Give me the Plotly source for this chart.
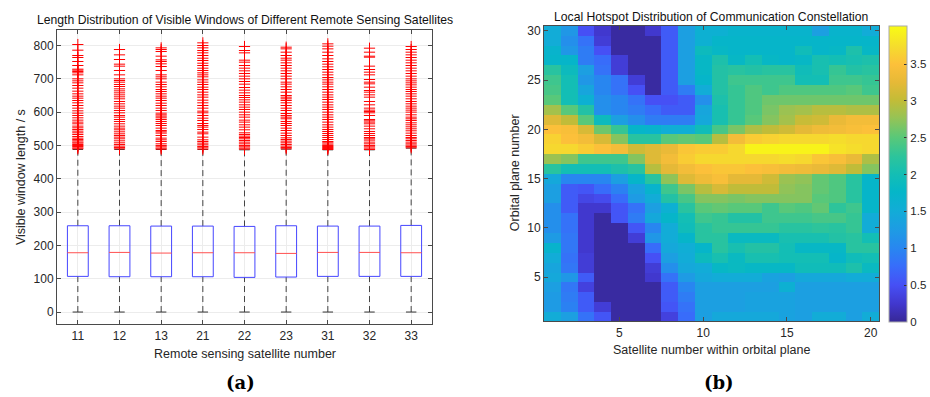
import plotly.graph_objects as go

# ---------------- data: (a) box plot ----------------
sat_labels = ['11', '12', '13', '21', '22', '23', '31', '32', '33']
q1 = [107, 106, 106, 106, 104, 105, 107, 107, 107]
median = [178, 179, 177, 178, 178, 176, 179, 179, 178]
q3 = [259, 259, 258, 258, 257, 259, 258, 258, 260]
upper_whisker = [488, 488, 488, 488, 487, 489, 487, 487, 492]
lower_whisker = [0, 0, 0, 0, 0, 0, 0, 0, 0]

outliers_11 = [490, 493, 497, 500, 503, 507, 510, 514, 518, 522, 527, 533, 538, 543, 548, 553, 558, 565, 570, 576, 583, 590, 597, 604, 612, 620, 628, 635, 642, 648, 655, 663, 672, 680, 688, 694, 700, 712, 718, 722, 726, 729, 740, 752, 764, 770, 786, 803]
outliers_12 = [490, 494, 498, 503, 508, 514, 520, 525, 530, 535, 541, 547, 552, 558, 565, 572, 578, 585, 590, 598, 605, 612, 618, 625, 632, 640, 646, 652, 658, 664, 670, 677, 683, 690, 695, 700, 712, 725, 738, 744, 758, 772, 788]
outliers_13 = [489, 492, 496, 500, 505, 512, 517, 522, 530, 537, 541, 545, 552, 560, 566, 572, 578, 583, 588, 592, 597, 605, 612, 620, 627, 635, 642, 648, 655, 662, 668, 676, 683, 690, 700, 706, 712, 725, 737, 745, 752, 757, 768, 782, 788, 793]
outliers_21 = [489, 493, 497, 502, 507, 512, 517, 525, 535, 540, 548, 555, 560, 566, 575, 582, 590, 598, 603, 612, 620, 628, 636, 645, 652, 660, 668, 675, 683, 690, 697, 706, 712, 718, 725, 732, 740, 747, 755, 762, 770, 778, 785, 793, 800, 808]
outliers_22 = [489, 492, 496, 500, 505, 510, 515, 520, 524, 528, 533, 538, 547, 555, 562, 570, 576, 585, 592, 600, 608, 615, 622, 630, 637, 644, 650, 658, 666, 674, 684, 692, 700, 708, 716, 724, 732, 740, 750, 756, 778, 785, 797]
outliers_23 = [490, 494, 498, 503, 508, 513, 518, 523, 530, 537, 545, 552, 560, 566, 572, 580, 585, 590, 596, 605, 612, 620, 628, 635, 640, 645, 650, 660, 668, 676, 684, 690, 700, 708, 716, 724, 732, 740, 748, 756, 762, 770, 780, 790, 795]
outliers_31 = [488, 491, 494, 497, 500, 504, 508, 512, 518, 524, 530, 536, 542, 548, 555, 562, 570, 578, 585, 592, 600, 608, 615, 622, 630, 638, 645, 652, 660, 668, 676, 684, 690, 697, 704, 712, 720, 728, 736, 744, 752, 760, 770, 780, 790, 798, 805]
outliers_32 = [488, 492, 496, 500, 505, 510, 516, 520, 524, 530, 536, 542, 550, 558, 565, 570, 574, 578, 590, 598, 602, 606, 612, 622, 632, 645, 652, 660, 665, 675, 685, 690, 698, 712, 720, 728, 738, 765, 768, 780, 792]
outliers_33 = [493, 497, 501, 505, 510, 515, 520, 524, 530, 537, 544, 550, 556, 562, 568, 575, 580, 585, 592, 600, 606, 612, 618, 625, 632, 640, 648, 655, 662, 668, 675, 682, 688, 694, 700, 708, 716, 724, 732, 740, 748, 756, 764, 772, 780, 788, 797]
outliers = [outliers_11, outliers_12, outliers_13, outliers_21, outliers_22,
            outliers_23, outliers_31, outliers_32, outliers_33]

y_ticks_a = [0, 100, 200, 300, 400, 500, 600, 700, 800]

# ---------------- data: (b) heat map (rows = orbital plane 1..30, cols = satellite 1..20) ----------------
sat_in_plane = list(range(1, 21))
orbital_plane = list(range(1, 31))
hotspot = [
    [1.5, 1.3, 0.8, 0.55, 0.05, 0.05, 0.05, 0.35, 0.75, 1.3, 1.45, 1.45, 1.45, 1.45, 1.35, 1.3, 1.5, 1.5, 1.3, 1.5],
    [1.25, 0.95, 0.6, 0.3, 0.05, 0.05, 0.05, 0.55, 0.8, 1.3, 1.3, 1.3, 1.35, 1.35, 1.35, 1.3, 1.3, 1.3, 1.3, 1.3],
    [1.25, 0.9, 0.6, 0.05, 0.05, 0.05, 0.05, 0.6, 0.9, 1.3, 1.3, 1.3, 1.35, 1.35, 1.35, 1.3, 1.3, 1.3, 1.3, 1.3],
    [1.3, 0.85, 0.35, 0.05, 0.05, 0.05, 0.05, 0.6, 1.0, 1.3, 1.3, 1.3, 1.3, 1.3, 1.6, 1.3, 1.3, 1.3, 1.3, 1.3],
    [1.45, 1.2, 0.6, 0.05, 0.05, 0.05, 0.25, 0.8, 1.25, 1.45, 1.5, 1.5, 1.5, 1.35, 1.3, 1.45, 1.45, 1.45, 1.5, 1.5],
    [1.4, 0.85, 0.3, 0.05, 0.05, 0.05, 0.3, 1.1, 1.45, 1.5, 1.8, 1.85, 1.8, 1.8, 1.8, 1.95, 1.95, 1.95, 2.1, 1.85],
    [1.5, 0.8, 0.3, 0.05, 0.05, 0.05, 0.5, 1.3, 1.5, 1.9, 2.05, 1.85, 2.05, 2.05, 2.0, 2.0, 2.0, 1.75, 1.95, 2.0],
    [1.7, 0.85, 0.25, 0.05, 0.05, 0.05, 0.75, 1.45, 1.55, 1.75, 2.2, 2.05, 2.15, 2.15, 2.0, 1.8, 1.8, 1.8, 2.2, 2.2],
    [1.25, 0.85, 0.25, 0.05, 0.05, 0.3, 1.2, 1.5, 1.75, 2.2, 2.2, 1.85, 1.85, 1.85, 2.05, 2.05, 2.05, 2.15, 2.2, 2.0],
    [1.1, 0.8, 0.25, 0.05, 0.05, 0.55, 1.0, 1.5, 1.95, 2.2, 2.3, 2.3, 2.3, 2.3, 2.2, 2.2, 2.25, 2.2, 2.3, 1.5],
    [1.1, 0.8, 0.25, 0.05, 0.55, 0.9, 1.45, 1.75, 2.0, 2.35, 2.3, 2.15, 2.15, 2.35, 2.35, 2.35, 2.4, 2.4, 2.3, 1.5],
    [1.1, 0.6, 0.25, 0.25, 0.55, 0.8, 1.3, 1.6, 2.2, 2.5, 2.55, 2.5, 2.5, 2.35, 2.5, 2.45, 2.55, 2.25, 2.35, 1.75],
    [1.3, 0.6, 0.4, 0.45, 0.75, 1.25, 1.5, 2.15, 2.4, 2.7, 2.7, 2.65, 2.7, 2.7, 2.7, 2.7, 2.5, 2.45, 2.2, 1.75],
    [1.3, 0.6, 0.55, 0.75, 0.95, 1.35, 1.7, 2.35, 2.65, 2.95, 3.15, 3.0, 3.0, 3.0, 2.75, 2.7, 2.55, 2.45, 2.2, 1.75],
    [1.45, 1.0, 1.0, 1.0, 1.3, 1.75, 2.2, 2.75, 3.2, 3.35, 3.45, 3.25, 3.25, 3.1, 2.8, 2.75, 2.55, 2.45, 2.2, 1.75],
    [2.2, 2.0, 2.0, 2.0, 2.1, 2.2, 2.95, 3.25, 3.4, 3.5, 3.55, 3.55, 3.5, 3.45, 3.4, 3.35, 3.3, 3.2, 3.0, 2.7],
    [2.8, 2.7, 2.35, 2.35, 2.35, 2.7, 3.2, 3.4, 3.6, 3.7, 3.7, 3.7, 3.7, 3.7, 3.75, 3.7, 3.55, 3.45, 3.3, 2.9],
    [3.7, 3.7, 3.6, 3.5, 3.4, 3.1, 3.2, 3.3, 3.55, 3.6, 3.6, 3.7, 3.95, 3.95, 3.95, 3.95, 3.95, 3.8, 3.75, 3.7],
    [3.65, 3.5, 3.4, 3.15, 2.7, 2.2, 2.2, 2.5, 2.55, 2.5, 2.95, 3.4, 3.6, 3.65, 3.7, 3.7, 3.7, 3.75, 3.7, 3.7],
    [3.5, 3.45, 3.15, 2.6, 2.3, 1.75, 1.7, 1.55, 1.55, 1.95, 2.4, 2.65, 2.9, 3.0, 3.1, 3.25, 3.35, 3.4, 3.45, 3.5],
    [3.2, 3.0, 2.5, 1.9, 1.3, 1.1, 0.9, 0.9, 0.9, 1.45, 2.05, 2.3, 2.5, 2.7, 2.85, 3.05, 3.1, 3.3, 3.4, 3.4],
    [2.85, 2.5, 2.15, 1.1, 1.0, 0.9, 0.75, 0.6, 0.6, 1.4, 2.05, 2.3, 2.45, 2.65, 2.8, 2.85, 2.95, 2.95, 2.9, 2.9],
    [2.5, 2.0, 1.6, 1.1, 1.0, 0.8, 0.5, 0.5, 0.6, 1.1, 2.1, 2.3, 2.45, 2.6, 2.6, 2.6, 2.6, 2.6, 2.6, 2.6],
    [2.4, 2.0, 1.4, 1.0, 0.8, 0.5, 0.05, 0.6, 0.9, 1.5, 2.15, 2.3, 2.45, 2.35, 2.45, 2.45, 2.45, 2.45, 2.5, 2.35],
    [2.35, 2.0, 1.2, 1.0, 0.8, 0.3, 0.05, 0.6, 1.3, 1.75, 2.15, 2.35, 2.35, 2.35, 2.35, 2.0, 2.0, 2.35, 2.35, 2.3],
    [2.2, 1.9, 1.3, 0.8, 0.3, 0.05, 0.05, 0.6, 1.3, 1.8, 2.15, 2.2, 2.15, 2.2, 2.2, 1.95, 2.05, 2.3, 2.15, 2.2],
    [1.75, 1.75, 0.9, 0.75, 0.3, 0.05, 0.05, 0.6, 1.3, 1.8, 2.1, 1.8, 2.0, 1.8, 1.75, 1.8, 2.05, 2.0, 2.05, 2.1],
    [1.7, 1.2, 0.9, 0.5, 0.05, 0.05, 0.05, 0.6, 1.3, 1.9, 1.8, 1.75, 1.75, 1.75, 1.75, 1.95, 1.75, 1.8, 2.1, 1.8],
    [1.5, 1.1, 0.8, 0.3, 0.05, 0.05, 0.05, 0.6, 1.3, 1.6, 1.75, 1.75, 1.75, 1.75, 1.75, 1.75, 1.75, 1.75, 1.75, 1.75],
    [1.5, 1.2, 0.5, 0.25, 0.05, 0.05, 0.25, 0.6, 1.3, 1.6, 1.6, 1.7, 1.7, 1.7, 1.7, 1.7, 1.3, 1.7, 1.7, 1.5],
]
cbar_ticks = [0, 0.5, 1, 1.5, 2, 2.5, 3, 3.5]
x_ticks_b = [5, 10, 15, 20]
y_ticks_b = [5, 10, 15, 20, 25, 30]

# ---------------- style ----------------
W, H = 930, 397
FONT = 'Liberation Sans, Arial, sans-serif'
TXT = '#262626'
AXC = '#4a4a4a'
BOX_HALF = 0.25
CAP_HALF = 0.125
RED = 'rgb(255,0,0)'

parula = [
    (0.000, (55, 40, 150)), (0.060, (65, 55, 205)), (0.125, (70, 80, 245)),
    (0.190, (55, 110, 250)), (0.250, (40, 135, 240)), (0.310, (30, 155, 228)),
    (0.375, (18, 172, 215)), (0.440, (5, 182, 200)), (0.500, (20, 190, 180)),
    (0.560, (45, 196, 155)), (0.625, (90, 200, 120)), (0.690, (150, 195, 85)),
    (0.750, (195, 188, 55)), (0.810, (230, 185, 55)), (0.870, (252, 192, 58)),
    (0.930, (245, 220, 45)), (1.000, (249, 251, 20)),
]
colorscale = [[p, 'rgb(%d,%d,%d)' % c] for p, c in parula]

def px_x(p):
    return p / W

def px_y(p):
    return 1 - p / H

fig = go.Figure()

pos = list(range(1, len(sat_labels) + 1))

# whiskers (dashed)
wx, wy = [], []
for i, p in enumerate(pos):
    wx += [p, p, None, p, p, None]
    wy += [q3[i], upper_whisker[i], None, lower_whisker[i], q1[i], None]
fig.add_trace(go.Scatter(x=wx, y=wy, mode='lines', line=dict(color='#444444', width=1, dash='6px,4px'),
                         hoverinfo='skip', showlegend=False, xaxis='x', yaxis='y'))
# caps
cx, cy = [], []
for i, p in enumerate(pos):
    for v in (upper_whisker[i], lower_whisker[i]):
        cx += [p - CAP_HALF, p + CAP_HALF, None]
        cy += [v, v, None]
fig.add_trace(go.Scatter(x=cx, y=cy, mode='lines', line=dict(color='#333333', width=1),
                         hoverinfo='skip', showlegend=False, xaxis='x', yaxis='y'))
# boxes
bx, by = [], []
for i, p in enumerate(pos):
    bx += [p - BOX_HALF, p + BOX_HALF, p + BOX_HALF, p - BOX_HALF, p - BOX_HALF, None]
    by += [q1[i], q1[i], q3[i], q3[i], q1[i], None]
fig.add_trace(go.Scatter(x=bx, y=by, mode='lines', line=dict(color='rgb(70,70,255)', width=1),
                         hoverinfo='skip', showlegend=False, xaxis='x', yaxis='y'))
# medians
mx, my = [], []
for i, p in enumerate(pos):
    mx += [p - BOX_HALF, p + BOX_HALF, None]
    my += [median[i], median[i], None]
fig.add_trace(go.Scatter(x=mx, y=my, mode='lines', line=dict(color='rgb(255,80,80)', width=1),
                         hoverinfo='skip', showlegend=False, xaxis='x', yaxis='y'))
# outliers
ox, oy = [], []
for i, p in enumerate(pos):
    ox += [p] * len(outliers[i])
    oy += outliers[i]
fig.add_trace(go.Scatter(x=ox, y=oy, mode='markers',
                         marker=dict(symbol='cross-thin', size=8, color=RED, line=dict(color=RED, width=1)),
                         hoverinfo='skip', showlegend=False, xaxis='x', yaxis='y'))

# heat map
fig.add_trace(go.Heatmap(z=hotspot, x=sat_in_plane, y=orbital_plane, colorscale=colorscale,
                         zmin=0, zmax=4.02, xaxis='x2', yaxis='y2',
                         colorbar=dict(x=px_x(889), xanchor='left', xpad=0, ypad=0,
                                       y=px_y(24), yanchor='top', len=297 / H, lenmode='fraction',
                                       thickness=18, thicknessmode='pixels',
                                       tickvals=cbar_ticks, ticks='inside', ticklen=3, tickcolor='#333',
                                       outlinewidth=1, outlinecolor='#aaaaaa',
                                       tickfont=dict(family=FONT, size=11.5, color=TXT))))

axis_common = dict(showline=True, linecolor=AXC, linewidth=1, mirror='ticks', ticks='inside',
                   ticklen=4, tickcolor=AXC, zeroline=False,
                   tickfont=dict(family=FONT, size=12, color=TXT))

fig.update_layout(
    width=W, height=H, margin=dict(l=0, r=0, t=0, b=0),
    paper_bgcolor='white', plot_bgcolor='white', showlegend=False,
    xaxis=dict(domain=[px_x(57), px_x(432)], range=[0.5, len(sat_labels) + 0.5],
               tickvals=pos, ticktext=sat_labels, showgrid=True, gridcolor='#ececec', anchor='y',
               **axis_common),
    yaxis=dict(domain=[px_y(324), px_y(28)], range=[-37, 847], tickvals=y_ticks_a,
               showgrid=True, gridcolor='#ececec', anchor='x', **axis_common),
    xaxis2=dict(domain=[px_x(544), px_x(879)], range=[0.5, 20.5], tickvals=x_ticks_b,
                showgrid=False, anchor='y2', **axis_common),
    yaxis2=dict(domain=[px_y(321), px_y(24)], range=[0.5, 30.5], tickvals=y_ticks_b,
                showgrid=False, anchor='x2', **axis_common),
)

ann = []
def text(x, y, s, size=12, angle=0, family=FONT, color=TXT):
    ann.append(dict(x=px_x(x), y=px_y(y), xref='paper', yref='paper', text=s, showarrow=False,
                    xanchor='center', yanchor='middle', textangle=angle,
                    font=dict(family=family, size=size, color=color)))

text(245, 18, 'Length Distribution of Visible Windows of Different Remote Sensing Satellites', size=12.2, color='#111')
text(711, 15, 'Local Hotspot Distribution of Communication Constellation', size=12.2, color='#111')
text(245, 354, 'Remote sensing satellite number', size=12.5)
text(21, 176, 'Visible window length / s', size=12.5, angle=-90)
text(711, 350, 'Satellite number within orbital plane', size=12.5)
text(515, 172, 'Orbital plane number', size=12.5, angle=-90)
text(240, 382, '<b>(a)</b>', size=18, family='DejaVu Serif, Liberation Serif, serif', color='#000')
text(719, 382, '<b>(b)</b>', size=18, family='DejaVu Serif, Liberation Serif, serif', color='#000')
fig.update_layout(annotations=ann)

fig.write_html('out.html')
